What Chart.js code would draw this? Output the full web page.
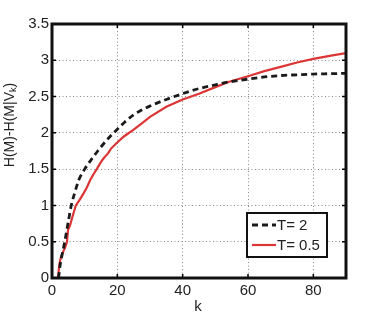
<!DOCTYPE html>
<html>
<head>
<meta charset="utf-8">
<script src="https://cdn.jsdelivr.net/npm/chart.js@4.4.0/dist/chart.umd.min.js"></script>
<style>
  body { margin: 0; background: #fff; }
  canvas { display: block; }
</style>
</head>
<body>
<canvas id="chart" width="383" height="318"></canvas>
<script>
// T = 2 (dashed black)
const kT2 = [2, 2.5, 3, 3.9, 5, 5.9, 7, 8.2, 10, 12, 14, 16, 18, 20, 22.3, 25, 30, 35, 40, 45, 50, 54, 60, 65, 70, 75, 80, 85, 90];
const hT2 = [0, 0.18, 0.3, 0.5, 0.78, 1.0, 1.18, 1.35, 1.5, 1.63, 1.75, 1.86, 1.96, 2.05, 2.15, 2.25, 2.37, 2.46, 2.54, 2.61, 2.66, 2.70, 2.74, 2.77, 2.79, 2.80, 2.81, 2.815, 2.82];

// T = 0.5 (solid red)
const kT05 = [1.8, 2.3, 2.8, 3.4, 4, 4.6, 4.9, 5.5, 6.3, 7.3, 8.5, 9.7, 10.7, 11.7, 12.7, 13.7, 15, 16, 17.2, 18, 19.8, 22, 24.9, 27.5, 30, 35, 40, 45, 50, 54, 60, 65, 70, 75, 80, 85, 90];
const hT05 = [0, 0.2, 0.3, 0.36, 0.42, 0.5, 0.66, 0.72, 0.85, 1.0, 1.08, 1.17, 1.25, 1.35, 1.43, 1.5, 1.6, 1.66, 1.72, 1.78, 1.86, 1.95, 2.04, 2.13, 2.22, 2.36, 2.46, 2.54, 2.63, 2.70, 2.78, 2.85, 2.91, 2.97, 3.02, 3.06, 3.10];

const seriesLabels = ['T= 2', 'T= 0.5'];
const xTicks = [0, 20, 40, 60, 80];
const yTicks = [0, 0.5, 1, 1.5, 2, 2.5, 3, 3.5];

const FONT = '"Liberation Sans", Arial, sans-serif';
const toPts = (xs, ys) => xs.map((x, i) => ({ x: x, y: ys[i] }));

// frame, inward ticks, titles and legend (MATLAB look)
const framePlugin = {
  id: 'frame',
  afterDraw(chart) {
    const { ctx, chartArea: a, scales } = chart;
    ctx.save();
    ctx.setLineDash([]);
    ctx.strokeStyle = '#000';
    ctx.lineWidth = 1.5;
    ctx.beginPath();
    xTicks.forEach(v => {
      const px = scales.x.getPixelForValue(v);
      ctx.moveTo(px, a.bottom); ctx.lineTo(px, a.bottom - 4);
      ctx.moveTo(px, a.top); ctx.lineTo(px, a.top + 4);
    });
    yTicks.forEach(v => {
      const py = scales.y.getPixelForValue(v);
      ctx.moveTo(a.left, py); ctx.lineTo(a.left + 4, py);
      ctx.moveTo(a.right, py); ctx.lineTo(a.right - 4, py);
    });
    ctx.stroke();
    ctx.lineWidth = 3;
    ctx.strokeStyle = '#111';
    ctx.strokeRect(Math.round(a.left), Math.round(a.top), Math.round(a.right - a.left), Math.round(a.bottom - a.top));
    ctx.restore();

    // y axis title with subscript k
    ctx.save();
    ctx.translate(14, 125);
    ctx.rotate(-Math.PI / 2);
    ctx.fillStyle = '#222';
    ctx.textBaseline = 'alphabetic';
    const p1 = 'H(M)-H(M|V', p2 = 'k', p3 = ')';
    ctx.font = '14px ' + FONT;
    const w1 = ctx.measureText(p1).width;
    const w3 = ctx.measureText(p3).width;
    ctx.font = '9px ' + FONT;
    const w2 = ctx.measureText(p2).width;
    const x0 = -(w1 + w2 + w3) / 2;
    ctx.font = '14px ' + FONT;
    ctx.fillText(p1, x0, 0);
    ctx.font = '9px ' + FONT;
    ctx.fillText(p2, x0 + w1, 2);
    ctx.font = '14px ' + FONT;
    ctx.fillText(p3, x0 + w1 + w2, 0);
    ctx.restore();

    // x axis title
    ctx.save();
    ctx.fillStyle = '#222';
    ctx.font = '15px ' + FONT;
    ctx.textAlign = 'center';
    ctx.textBaseline = 'alphabetic';
    ctx.fillText('k', 198, 311);
    ctx.restore();

    // legend
    ctx.save();
    ctx.setLineDash([]);
    const bx = 247, by = 213, bw = 80, bh = 44;
    ctx.fillStyle = '#fff';
    ctx.fillRect(bx, by, bw, bh);
    ctx.strokeStyle = '#111';
    ctx.lineWidth = 2;
    ctx.strokeRect(bx, by, bw, bh);
    chart.data.datasets.forEach((d, i) => {
      const y = by + 12 + i * 20;
      ctx.beginPath();
      ctx.strokeStyle = d.borderColor;
      ctx.lineWidth = d.borderWidth;
      ctx.setLineDash(d.borderDash || []);
      ctx.moveTo(bx + 5, y);
      ctx.lineTo(bx + 29, y);
      ctx.stroke();
      ctx.setLineDash([]);
      ctx.fillStyle = '#222';
      ctx.font = '15px ' + FONT;
      ctx.textBaseline = 'middle';
      ctx.fillText(seriesLabels[i], bx + 30, y + 1);
    });
    ctx.restore();
  }
};

new Chart(document.getElementById('chart'), {
  type: 'line',
  data: {
    datasets: [{
      label: seriesLabels[0],
      data: toPts(kT2, hT2),
      borderColor: '#1a1a1a',
      borderWidth: 2.8,
      borderDash: [6, 4],
      pointRadius: 0,
      cubicInterpolationMode: 'monotone',
      fill: false
    }, {
      label: seriesLabels[1],
      data: toPts(kT05, hT05),
      borderColor: '#dc3535',
      borderWidth: 2.2,
      pointRadius: 0,
      tension: 0,
      fill: false
    }]
  },
  options: {
    responsive: false,
    devicePixelRatio: 1,
    animation: false,
    layout: { padding: { left: 0, right: 37, top: 24, bottom: 0 } },
    plugins: {
      legend: { display: false },
      tooltip: { enabled: false }
    },
    scales: {
      x: {
        type: 'linear',
        min: 0,
        max: 90,
        afterFit: s => { s.height = 40; },
        afterBuildTicks: s => { s.ticks = xTicks.map(v => ({ value: v })); },
        ticks: { color: '#222', font: { size: 15, family: FONT }, padding: 4, maxRotation: 0, callback: v => String(v) },
        grid: { color: '#8a8a8a', lineWidth: 1, drawTicks: false },
        border: { display: false, dash: [1, 2.5] }
      },
      y: {
        min: 0,
        max: 3.5,
        afterFit: s => { s.width = 52; },
        afterBuildTicks: s => { s.ticks = yTicks.map(v => ({ value: v })); },
        ticks: { color: '#222', font: { size: 15, family: FONT }, padding: 3, callback: v => String(v) },
        grid: { color: '#8a8a8a', lineWidth: 1, drawTicks: false },
        border: { display: false, dash: [1, 2.5] }
      }
    }
  },
  plugins: [framePlugin]
});
</script>
</body>
</html>
